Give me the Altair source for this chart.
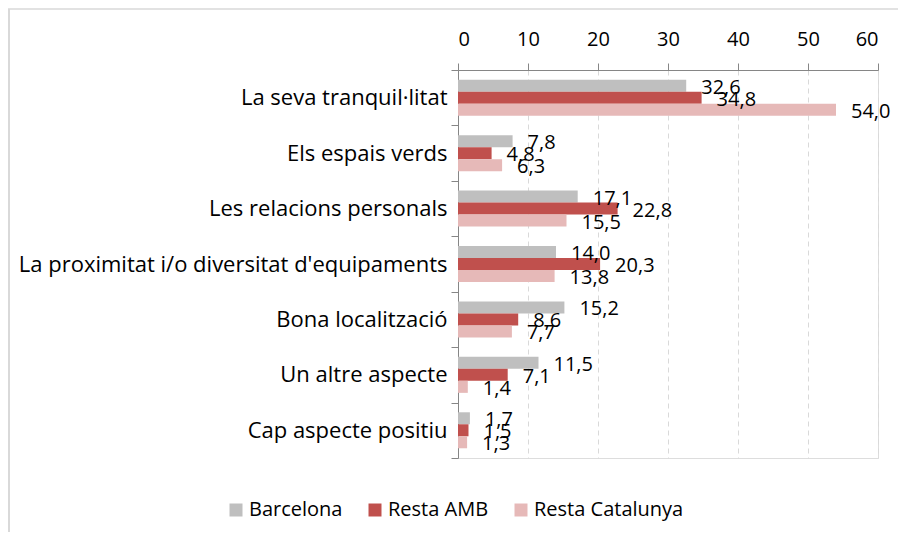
import altair as alt
import pandas as pd

categories = [
    "La seva tranquil·litat",
    "Els espais verds",
    "Les relacions personals",
    "La proximitat i/o diversitat d'equipaments",
    "Bona localització",
    "Un altre aspecte",
    "Cap aspecte positiu",
]
series = ["Barcelona", "Resta AMB", "Resta Catalunya"]
barcelona = [32.6, 7.8, 17.1, 14.0, 15.2, 11.5, 1.7]
resta_amb = [34.8, 4.8, 22.8, 20.3, 8.6, 7.1, 1.5]
resta_cat = [54.0, 6.3, 15.5, 13.8, 7.7, 1.4, 1.3]
x_ticks = [0, 10, 20, 30, 40, 50, 60]
colors = ["#BFBFBF", "#C0504D", "#E6B9B8"]

rows = []
for s, vals in zip(series, [barcelona, resta_amb, resta_cat]):
    for c, v in zip(categories, vals):
        rows.append({"cat": c, "serie": s, "value": v,
                     "label": f"{v:.1f}".replace(".", ",")})
df = pd.DataFrame(rows)

FONT = "Open Sans"
FS = 20

y_enc = alt.Y("cat:N", sort=categories,
              scale=alt.Scale(paddingInner=0, paddingOuter=0),
              axis=alt.Axis(title=None, labelFontSize=22, labelColor="#000000",
                            labelFont=FONT, labelLimit=480, labelPadding=4,
                            tickBand="extent", tickSize=7, tickColor="#868686",
                            domainColor="#868686", grid=False))
yoff_enc = alt.YOffset("serie:N", sort=series,
                       scale=alt.Scale(paddingOuter=0.81, paddingInner=0))
x_enc = alt.X("value:Q",
              scale=alt.Scale(domain=[0, 60], nice=False),
              axis=alt.Axis(orient="top", values=x_ticks, title=None,
                            labelFontSize=FS, labelFont=FONT, labelColor="#000000",
                            labelPadding=14, tickSize=7, tickColor="#868686",
                            domainColor="#868686", grid=True, gridColor="#D9D9D9",
                            gridDash=[5, 4]))

base = alt.Chart(df)

bars = base.mark_bar().encode(
    x=x_enc, y=y_enc, yOffset=yoff_enc,
    color=alt.Color("serie:N", sort=series,
                    scale=alt.Scale(domain=series, range=colors),
                    legend=alt.Legend(title=None, orient="none", legendX=-232,
                                      legendY=430, direction="horizontal",
                                      symbolType="square", symbolSize=169,
                                      symbolStrokeWidth=0, labelFontSize=FS,
                                      labelFont=FONT, labelColor="#000000",
                                      columnPadding=22, labelOffset=3)),
)

texts = base.mark_text(align="left", baseline="middle", dx=15, dy=2,
                       fontSize=FS, font=FONT, color="#000000").encode(
    x="value:Q", y=alt.Y("cat:N", sort=categories),
    yOffset=alt.YOffset("serie:N", sort=series),
    text="label:N",
)

border_top = alt.Chart(pd.DataFrame({"a": [0]})).mark_rule(
    color="#D9D9D9", strokeWidth=1.5).encode(
    x=alt.value(-450), x2=alt.value(440), y=alt.value(-61))
border_left = alt.Chart(pd.DataFrame({"a": [0]})).mark_rule(
    color="#D9D9D9", strokeWidth=2).encode(
    x=alt.value(-449), y=alt.value(-61), y2=alt.value(470))

chart = alt.layer(border_top, border_left, bars, texts).properties(
    width=420, height=388,
    autosize=alt.AutoSizeParams(type="none"),
    padding={"left": 450, "top": 62, "right": 20, "bottom": 74},
).configure_view(stroke=None).configure(background="#FFFFFF")

chart.save("out.html", embed_options={"renderer": "svg", "actions": False})
